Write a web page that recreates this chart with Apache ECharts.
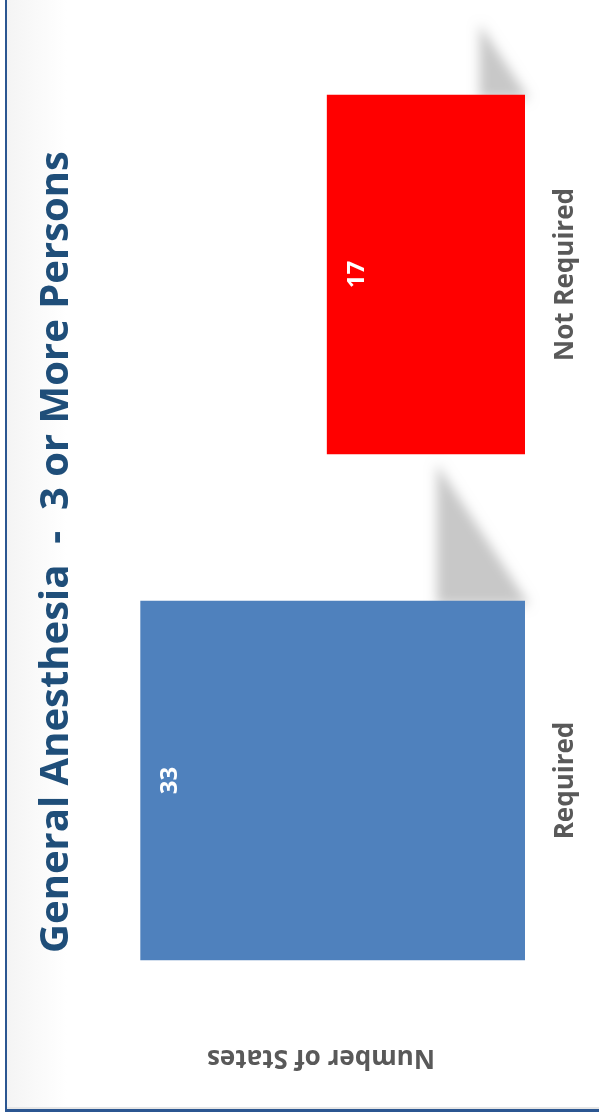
<!DOCTYPE html>
<html>
<head>
<meta charset="utf-8">
<script src="https://cdn.jsdelivr.net/npm/echarts@6/dist/echarts.min.js"></script>
<style>
html,body{margin:0;padding:0;background:#fff;}
#chart{width:599px;height:1119px;}
</style>
</head>
<body>
<div id="chart"></div>
<script>
var categories = ['Required', 'Not Required'];
var states = [33, 17];
var barColors = ['#4f81bd', '#ff0000'];
var titleText = 'General Anesthesia  -  3 or More Persons';
var axisName = 'Number of States';

var chart = echarts.init(document.getElementById('chart'));
var gapPct = 29;
var SHIFT = 3000;

var option = {
  backgroundColor: '#ffffff',
  animation: false,
  grid: { left: 117, right: 74, top: 21.5, bottom: 85.5 },
  xAxis: {
    type: 'value', inverse: true, min: 0, max: 35,
    axisLabel: { show: false }, splitLine: { show: false },
    axisLine: { show: false }, axisTick: { show: false },
    name: axisName, nameLocation: 'middle', nameGap: 11, nameRotate: 180,
    nameTextStyle: { fontFamily: 'Open Sans', fontWeight: 'bold', fontSize: 26, color: '#595959' }
  },
  yAxis: {
    type: 'category', data: categories, position: 'right',
    axisLine: { show: false }, axisTick: { show: false },
    axisLabel: { rotate: 90, margin: 28, fontFamily: 'Open Sans', fontWeight: 'bold', fontSize: 26, color: '#595959' }
  },
  graphic: [
    { type: 'rect', z: -10, shape: { x: 7, y: 0, width: 60, height: 1109 },
      style: { fill: new echarts.graphic.LinearGradient(0, 0, 1, 0, [
        { offset: 0, color: '#f4f4f4' }, { offset: 1, color: '#ffffff' }]) } },
    { type: 'rect', z: 100, shape: { x: 5, y: 0, width: 2, height: 1112 }, style: { fill: '#2b5691' } },
    { type: 'rect', z: 100, shape: { x: 5, y: 1109, width: 594, height: 3 }, style: { fill: '#2b5691' } },
    { type: 'rect', z: 99, shape: { x: 7, y: 1107, width: 592, height: 2 }, style: { fill: '#e6e6e6' } },
    { type: 'text', x: 57, y: 552, rotation: Math.PI / 2, z: 100,
      style: { text: titleText, align: 'center', verticalAlign: 'middle',
        font: 'bold 40px "Open Sans"', fill: '#1f4e79' } }
  ],
  series: [
    {
      type: 'custom', z: 1, silent: true,
      data: states.map(function (v, i) { return [v, i]; }),
      encode: { x: 0, y: 1 },
      renderItem: function (params, api) {
        var v = api.value(0), idx = api.value(1);
        var p0 = api.coord([0, idx]);
        var p1 = api.coord([v, idx]);
        var L = Math.abs(p0[0] - p1[0]);
        var band = api.size([0, 1])[1];
        var bw = band * (1 - gapPct / 100);
        var edgeY = p0[1] - bw / 2;
        var cx = p0[0] - 0.229 * L;
        return {
          type: 'polygon',
          shape: { points: [[p0[0] + 4 - SHIFT, edgeY + 4], [cx - SHIFT, edgeY + 4], [cx - SHIFT, edgeY - 0.356 * L]] },
          style: { fill: '#cbcbcb', shadowBlur: 12, shadowColor: '#c8c8c8', shadowOffsetX: SHIFT }
        };
      }
    },
    {
      type: 'bar', z: 2,
      barCategoryGap: gapPct + '%',
      data: states.map(function (v, i) { return { value: v, itemStyle: { color: barColors[i] } }; }),
      label: {
        show: true, position: 'insideLeft', distance: 30, rotate: 90,
        align: 'center', verticalAlign: 'middle',
        fontFamily: 'Open Sans', fontWeight: 'bold', fontSize: 24, color: '#ffffff'
      }
    }
  ]
};
chart.setOption(option);
</script>
</body>
</html>
